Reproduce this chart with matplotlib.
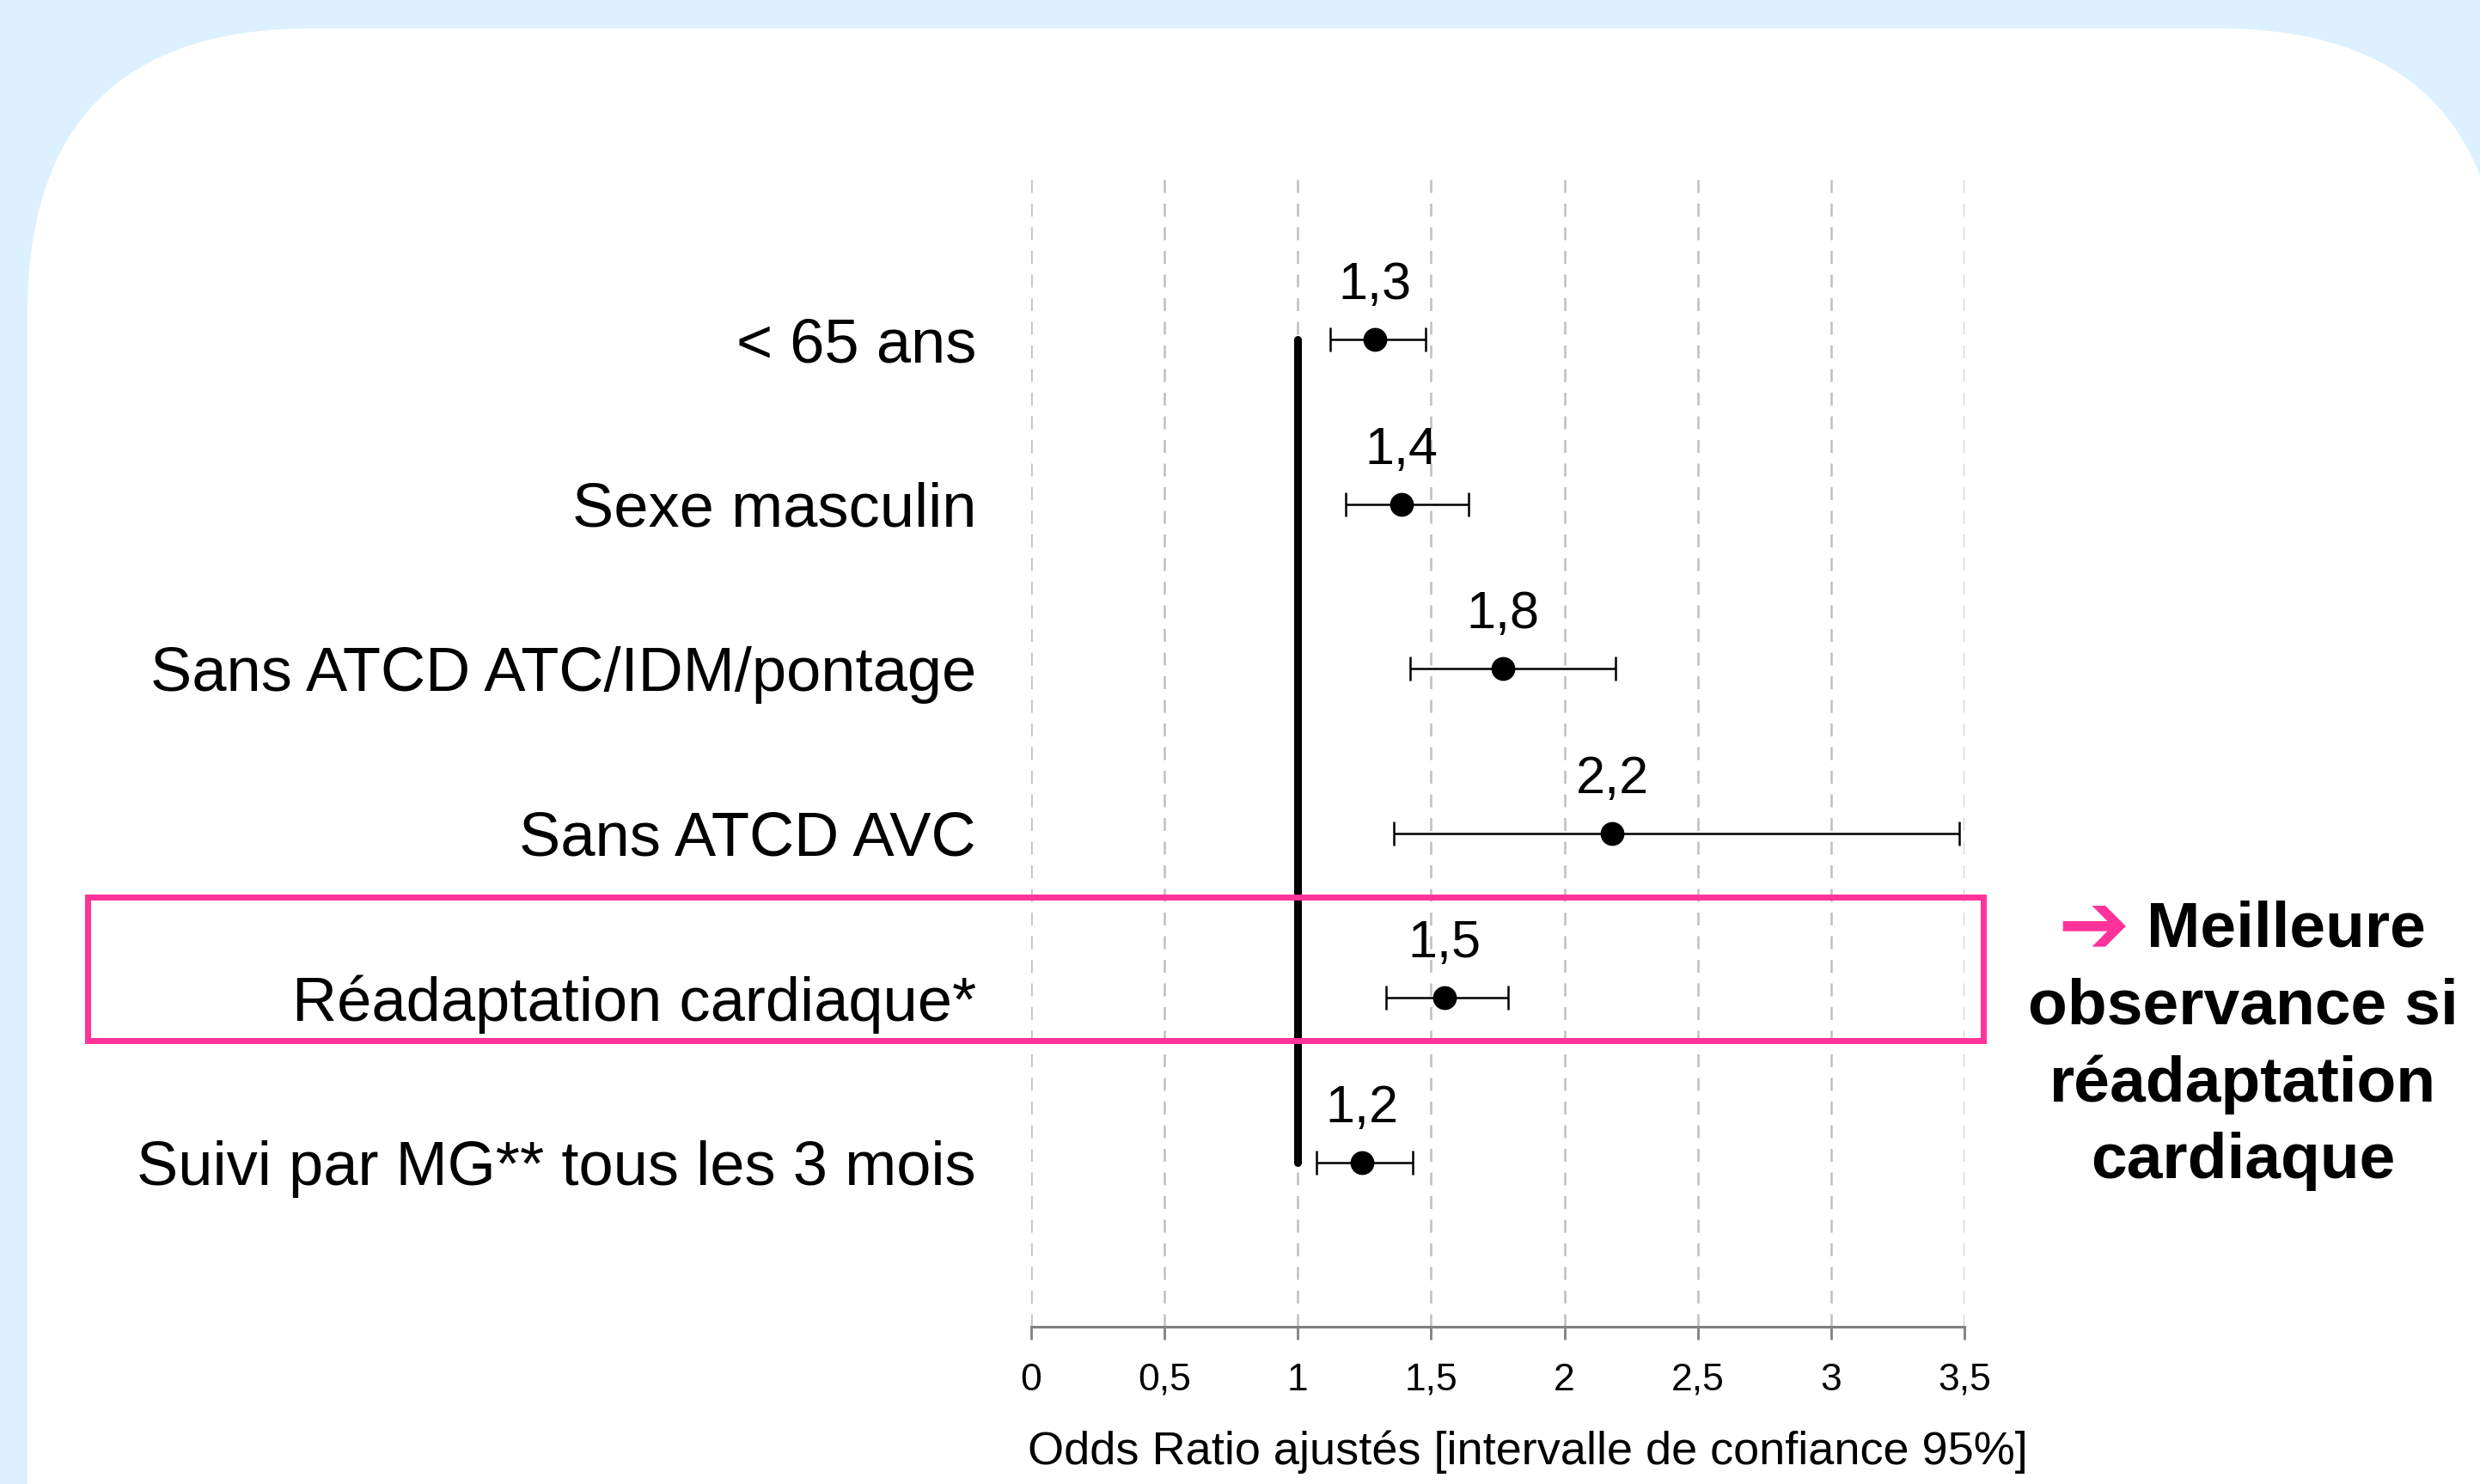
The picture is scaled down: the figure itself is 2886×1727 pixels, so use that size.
import matplotlib
matplotlib.use("Agg")
import matplotlib.pyplot as plt
from matplotlib.patches import FancyBboxPatch, Rectangle

plt.rcParams['font.family'] = ['Liberation Sans', 'DejaVu Sans']

# data
categories = ["< 65 ans", "Sexe masculin", "Sans ATCD ATC/IDM/pontage",
              "Sans ATCD AVC", "Réadaptation cardiaque*", "Suivi par MG** tous les 3 mois"]
odds = [1.29, 1.39, 1.77, 2.18, 1.55, 1.24]
ci_low = [1.12, 1.18, 1.42, 1.36, 1.33, 1.07]
ci_high = [1.48, 1.64, 2.19, 3.48, 1.79, 1.43]
odds_labels = ["1,3", "1,4", "1,8", "2,2", "1,5", "1,2"]
xticks = [0, 0.5, 1, 1.5, 2, 2.5, 3, 3.5]
xtick_labels = ["0", "0,5", "1", "1,5", "2", "2,5", "3", "3,5"]
note_lines = ["Meilleure", "observance si", "réadaptation", "cardiaque"]

W, H = 2886, 1727
blue = "#DCF1FD"
pink = "#FF3399"

fig = plt.figure(figsize=(W / 100, H / 100), dpi=100)
fig.patch.set_facecolor(blue)

# background panel in pixel coords
bg = fig.add_axes([0, 0, 1, 1], zorder=-1)
bg.set_xlim(0, W)
bg.set_ylim(H, 0)
bg.axis("off")
bg.add_patch(FancyBboxPatch((32, 33), 2880, 2200,
                            boxstyle="round,pad=0,rounding_size=331",
                            fc="white", ec="none"))
bg.add_patch(Rectangle((69, 184), 30, 34, fc="white", ec="none"))

ax = fig.add_axes([1200 / W, 1 - 1544 / H, 1086 / W, 1340 / H])
ax.set_facecolor("none")
ypos = list(range(1, len(categories) + 1))

ax.set_xlim(0, 3.5)
ax.set_ylim(7, 0)

for x in xticks:
    ax.axvline(x, color="#BFBFBF", lw=1.8, ls=(0, (6, 5)), zorder=1)

# reference line at OR = 1
ax.plot([1, 1], [ypos[0], ypos[-1]], color="black", lw=6.5,
        solid_capstyle="round", zorder=2)

xerr = [[o - l for o, l in zip(odds, ci_low)], [h - o for o, h in zip(odds, ci_high)]]
ax.errorbar(odds, ypos, xerr=xerr, fmt="o", color="black", ms=19,
            elinewidth=1.8, capsize=10, capthick=1.8, zorder=3)

for o, y, lab in zip(odds, ypos, odds_labels):
    ax.annotate(lab, (o, y), xytext=(0, 45), textcoords="offset points",
                ha="center", va="center", fontsize=44)

# highlight box around réadaptation
ax.add_patch(Rectangle((-3.54, 4.39), 7.11, 0.87, fill=False, ec=pink,
                       lw=5, clip_on=False, zorder=4))

ax.set_yticks(ypos)
ax.set_yticklabels(categories, fontsize=52)
ax.tick_params(axis="y", length=0, pad=46)
ax.set_xticks(xticks)
ax.set_xticklabels(xtick_labels, fontsize=32)
ax.tick_params(axis="x", length=11, width=2, color="#808080", pad=19)
for s in ["top", "right", "left"]:
    ax.spines[s].set_visible(False)
ax.spines["bottom"].set_color("#808080")
ax.spines["bottom"].set_linewidth(2.2)
ax.set_xlabel("Odds Ratio ajustés [intervalle de confiance 95%]", fontsize=39,
              labelpad=27, x=0.532)

# side note
bg.text(2436, 1082, "➔", color=pink, fontsize=72, ha="center", va="center",
        family="DejaVu Sans")
bg.text(2498, 1082, note_lines[0], fontsize=54, fontweight="bold", ha="left", va="center")
for i, line in enumerate(note_lines[1:]):
    bg.text(2610, 1172 + 90 * i, line, fontsize=54, fontweight="bold",
            ha="center", va="center")

fig.savefig("out.png", dpi=100, facecolor=fig.get_facecolor())
